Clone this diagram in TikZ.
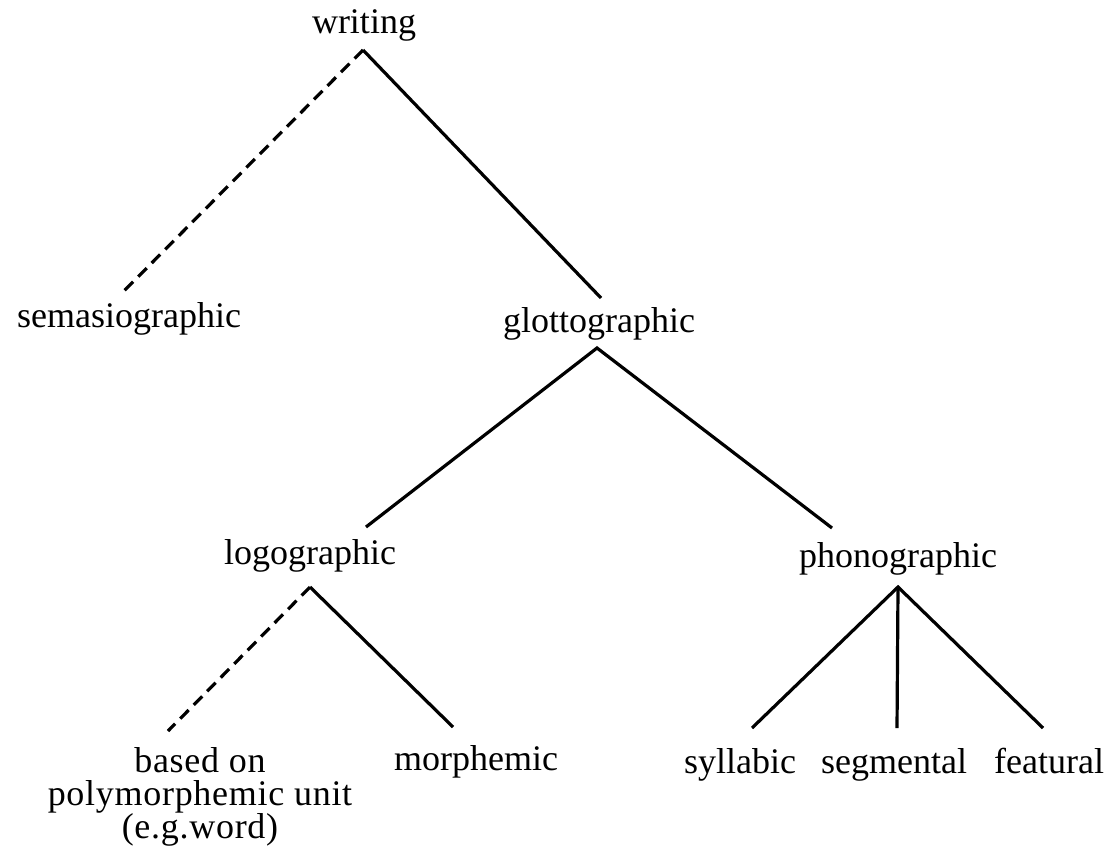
\documentclass[tikz,border=0pt]{standalone}
\usepackage{fontspec}
\setmainfont{Liberation Serif}
\begin{document}
\begin{tikzpicture}[x=0.5pt,y=-0.5pt,
  lbl/.style={anchor=base,inner sep=0pt,font=\fontsize{18pt}{18pt}\selectfont,align=center},
  edge/.style={line width=1.6pt,line cap=butt},
  dedge/.style={edge,dash pattern=on 6pt off 3.6pt}]
\useasboundingbox (0,0) rectangle (1111,845);
% nodes
\node[lbl] (writing) at (364,34) {writing};
\node[lbl] (semasio) at (129,327) {semasiographic};
\node[lbl] (glotto) at (599,332) {glottographic};
\node[lbl] (logo) at (310,564) {logographic};
\node[lbl] (phono) at (898,567) {phonographic};
\node[lbl,anchor=north,font=\fontsize{18pt}{16.5pt}\selectfont\addfontfeatures{LetterSpace=2}] (poly) at (200,747) {based~on\\polymorphemic~unit\\(e.g.word)};
\node[lbl] (morph) at (476,770) {morphemic};
\node[lbl] (syll) at (740,773) {syllabic};
\node[lbl] (segm) at (894,773) {segmental};
\node[lbl] (feat) at (1049,773) {featural};
% connector ends
\coordinate (writingB) at (363,50);
\coordinate (semasioT) at (122,293);
\coordinate (glottoT) at (601,298);
\coordinate (glottoB) at (597,348);
\coordinate (logoT) at (366,527);
\coordinate (phonoT) at (832,528);
\coordinate (logoB) at (310,587);
\coordinate (polyT) at (168,731);
\coordinate (morphT) at (453,727);
\coordinate (phonoB) at (898,587);
\coordinate (syllT) at (752,728);
\coordinate (segmT) at (897,728);
\coordinate (featT) at (1043,728);
% connectors
\draw[dedge] (writingB) -- (semasioT);
\draw[edge] (writingB) -- (glottoT);
\draw[edge] (logoT) -- (glottoB) -- (phonoT);
\draw[dedge] (logoB) -- (polyT);
\draw[edge] (logoB) -- (morphT);
\draw[edge] (syllT) -- (phonoB) -- (featT);
\draw[edge] (phonoB) -- (segmT);
\end{tikzpicture}
\end{document}
